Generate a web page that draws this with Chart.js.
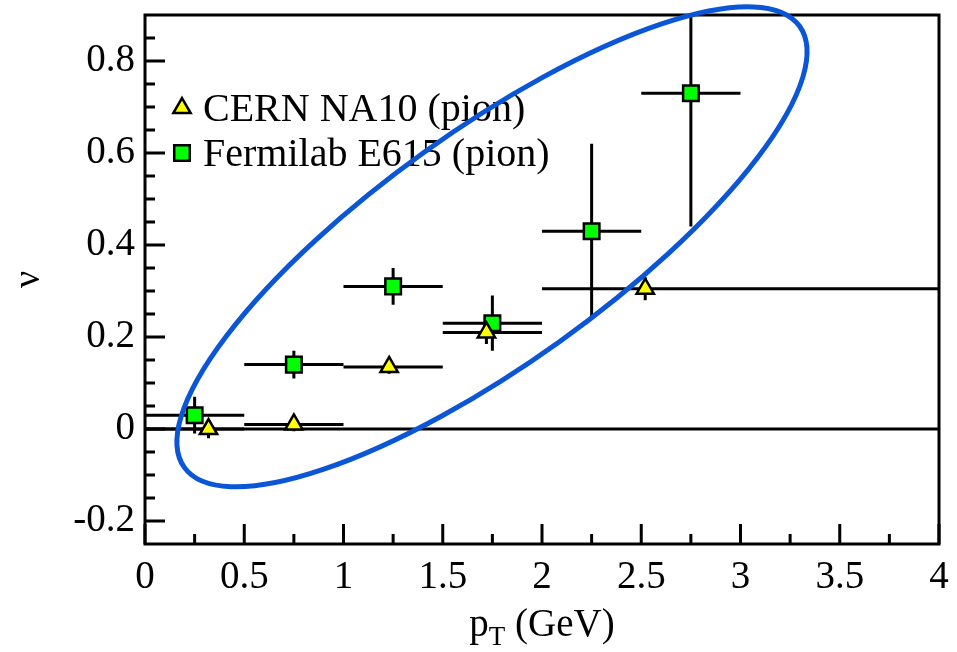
<!DOCTYPE html>
<html>
<head>
<meta charset="utf-8">
<script src="https://cdn.jsdelivr.net/npm/chart.js@4.4.1/dist/chart.umd.min.js"></script>
<style>
  html, body { margin: 0; padding: 0; background: #fff; }
  canvas { display: block; }
</style>
</head>
<body>
<canvas id="vplot" width="957" height="652"></canvas>
<script>
// nu vs p_T for pion-induced Drell-Yan (NA10, E615)
const cernPt     = [0.32, 0.75, 1.23, 1.72, 2.52];
const cernNu     = [0.0, 0.01, 0.135, 0.21, 0.305];
const cernNuErr  = [0.02, 0.015, 0.015, 0.025, 0.025];
const cernPtLow  = [0, 0.5, 1.0, 1.5, 2.0];
const cernPtHigh = [0.5, 1.0, 1.5, 2.0, 4.0];

const fnalPt     = [0.25, 0.75, 1.25, 1.75, 2.25, 2.75];
const fnalNu     = [0.03, 0.14, 0.31, 0.23, 0.43, 0.73];
const fnalNuErr  = [0.04, 0.03, 0.04, 0.06, 0.19, 0.29];
const fnalPtLow  = [0, 0.5, 1.0, 1.5, 2.0, 2.5];
const fnalPtHigh = [0.5, 1.0, 1.5, 2.0, 2.5, 3.0];

const xTicks = [0, 0.5, 1, 1.5, 2, 2.5, 3, 3.5, 4];
const xMinor = [0.25, 0.75, 1.25, 1.75, 2.25, 2.75, 3.25, 3.75];
const yTicks = [-0.2, 0, 0.2, 0.4, 0.6, 0.8];
const yMinor = [-0.15, -0.1, -0.05, 0.05, 0.1, 0.15, 0.25, 0.3, 0.35,
                0.45, 0.5, 0.55, 0.65, 0.7, 0.75, 0.85];

// highlight ring (centre + semi-axis vectors, in data units)
const ring = {
  center: { x: 1.748, y: 0.396 },
  major:  { x: 1.550, y: 0.4795 },
  minor:  { x: 0.3417, y: -0.2057 }
};

const serif = 'Liberation Serif';

const points = (xs, ys) => xs.map((v, i) => ({ x: v, y: ys[i] }));

const errorBars = {
  id: 'errorBars',
  beforeDatasetsDraw(chart) {
    const { ctx, chartArea: a, scales: { x, y } } = chart;
    ctx.save();
    ctx.beginPath();
    ctx.rect(a.left, a.top, a.right - a.left, a.bottom - a.top);
    ctx.clip();
    ctx.strokeStyle = '#000';
    ctx.lineWidth = 3;
    chart.data.datasets.forEach(ds => {
      if (!ds.err) return;
      ds.data.forEach((p, i) => {
        const px = x.getPixelForValue(p.x);
        const py = y.getPixelForValue(p.y);
        ctx.beginPath();
        ctx.moveTo(x.getPixelForValue(ds.err.lo[i]), py);
        ctx.lineTo(x.getPixelForValue(ds.err.hi[i]), py);
        ctx.moveTo(px, y.getPixelForValue(p.y - ds.err.dy[i]));
        ctx.lineTo(px, y.getPixelForValue(p.y + ds.err.dy[i]));
        ctx.stroke();
      });
    });
    ctx.restore();
  }
};

const frame = {
  id: 'frame',
  afterDatasetsDraw(chart) {
    const { ctx, chartArea: a, scales: { x, y } } = chart;
    ctx.save();
    ctx.strokeStyle = '#000';
    ctx.lineWidth = 3;
    ctx.strokeRect(a.left, a.top, a.right - a.left, a.bottom - a.top);
    ctx.lineWidth = 3;
    ctx.beginPath();
    const tickX = (v, len) => {
      const px = x.getPixelForValue(v);
      ctx.moveTo(px, a.bottom); ctx.lineTo(px, a.bottom - len);
    };
    const tickY = (v, len) => {
      const py = y.getPixelForValue(v);
      ctx.moveTo(a.left, py); ctx.lineTo(a.left + len, py);
    };
    xTicks.forEach(v => tickX(v, 20));
    xMinor.forEach(v => tickX(v, 10));
    yTicks.forEach(v => tickY(v, 20));
    yMinor.forEach(v => tickY(v, 10));
    ctx.stroke();
    ctx.restore();
  }
};

function marker(ctx, style, x, y, r, fill) {
  ctx.beginPath();
  if (style === 'triangle') {
    for (let k = 0; k < 3; k++) {
      const t = k * 2 * Math.PI / 3;
      const px = x + Math.sin(t) * r, py = y - Math.cos(t) * r;
      k ? ctx.lineTo(px, py) : ctx.moveTo(px, py);
    }
    ctx.closePath();
  } else {
    const s = r * Math.SQRT1_2;
    ctx.rect(x - s, y - s, 2 * s, 2 * s);
  }
  ctx.fillStyle = fill;
  ctx.fill();
  ctx.stroke();
}

const overlay = {
  id: 'overlay',
  afterDraw(chart) {
    const { ctx, chartArea: a, scales: { x, y } } = chart;

    // legend
    ctx.save();
    ctx.strokeStyle = '#000';
    ctx.lineWidth = 2.5;
    ctx.font = '40px "' + serif + '"';
    ctx.textBaseline = 'middle';
    chart.data.datasets.filter(ds => ds.err).forEach((ds, i) => {
      const ly = a.top + 93 + i * 45;
      marker(ctx, ds.pointStyle, a.left + 37, ly, ds.pointRadius, ds.backgroundColor);
      ctx.fillStyle = '#000';
      ctx.fillText(ds.label, a.left + 58, ly + 2);
    });
    ctx.restore();

    // x title with subscript
    ctx.save();
    ctx.fillStyle = '#000';
    ctx.textBaseline = 'alphabetic';
    const big = '39px "' + serif + '"', small = '27px "' + serif + '"';
    ctx.font = big;
    const wp = ctx.measureText('p').width;
    const wr = ctx.measureText(' (GeV)').width;
    ctx.font = small;
    const wt = ctx.measureText('T').width;
    let tx = (a.left + a.right) / 2 - (wp + wt + wr) / 2;
    const base = 636;
    ctx.font = big; ctx.fillText('p', tx, base); tx += wp;
    ctx.font = small; ctx.fillText('T', tx, base + 9); tx += wt;
    ctx.font = big; ctx.fillText(' (GeV)', tx, base);
    ctx.restore();

    // highlight ring
    const cx = x.getPixelForValue(ring.center.x), cy = y.getPixelForValue(ring.center.y);
    const ux = x.getPixelForValue(ring.center.x + ring.major.x) - cx;
    const uy = y.getPixelForValue(ring.center.y + ring.major.y) - cy;
    const vx = x.getPixelForValue(ring.center.x + ring.minor.x) - cx;
    const vy = y.getPixelForValue(ring.center.y + ring.minor.y) - cy;
    ctx.save();
    ctx.beginPath();
    ctx.save();
    ctx.transform(ux, uy, vx, vy, cx, cy);
    ctx.arc(0, 0, 1, 0, 2 * Math.PI);
    ctx.restore();
    ctx.strokeStyle = '#0a56d6';
    ctx.lineWidth = 5;
    ctx.stroke();
    ctx.restore();
  }
};

// keep the plot frame fixed; labels may hang over the edges
const noOverhang = s => {
  s.paddingTop = 0; s.paddingBottom = 0; s.paddingLeft = 0; s.paddingRight = 0;
};

new Chart(document.getElementById('vplot'), {
  type: 'scatter',
  data: {
    datasets: [
      {
        label: 'CERN NA10 (pion)',
        data: points(cernPt, cernNu),
        err: { lo: cernPtLow, hi: cernPtHigh, dy: cernNuErr },
        pointStyle: 'triangle',
        pointRadius: 10,
        pointBorderWidth: 2.5,
        backgroundColor: '#ffff00',
        borderColor: '#000'
      },
      {
        label: 'Fermilab E615 (pion)',
        data: points(fnalPt, fnalNu),
        err: { lo: fnalPtLow, hi: fnalPtHigh, dy: fnalNuErr },
        pointStyle: 'rect',
        pointRadius: 11,
        pointBorderWidth: 2.5,
        backgroundColor: '#00ff00',
        borderColor: '#000'
      },
      {
        // nu = 0 reference
        type: 'line',
        data: [{ x: 0, y: 0 }, { x: 4, y: 0 }],
        borderColor: '#000',
        borderWidth: 3,
        pointRadius: 0
      }
    ]
  },
  options: {
    responsive: false,
    animation: false,
    events: [],
    layout: { padding: { top: 15, right: 18, left: 0, bottom: 0 } },
    plugins: {
      legend: { display: false },
      tooltip: { enabled: false }
    },
    scales: {
      x: {
        type: 'linear',
        min: 0,
        max: 4,
        grid: { display: false, drawTicks: false },
        border: { display: false },
        afterBuildTicks: s => { s.ticks = xTicks.map(v => ({ value: v })); },
        afterFit: s => { s.height = 108; noOverhang(s); },
        ticks: {
          padding: 10,
          color: '#000',
          font: { family: serif, size: 39 },
          callback: v => String(v)
        }
      },
      y: {
        type: 'linear',
        min: -0.25,
        max: 0.9,
        grid: { display: false, drawTicks: false },
        border: { display: false },
        afterBuildTicks: s => { s.ticks = yTicks.map(v => ({ value: v })); },
        afterFit: s => { s.width = 145; noOverhang(s); },
        title: {
          display: true,
          text: 'ν',
          color: '#000',
          padding: { top: 6, bottom: 0 },
          font: { family: serif, size: 38 }
        },
        ticks: {
          padding: 10,
          color: '#000',
          font: { family: serif, size: 39 },
          callback: v => String(v)
        }
      }
    }
  },
  plugins: [errorBars, frame, overlay]
});
</script>
</body>
</html>
